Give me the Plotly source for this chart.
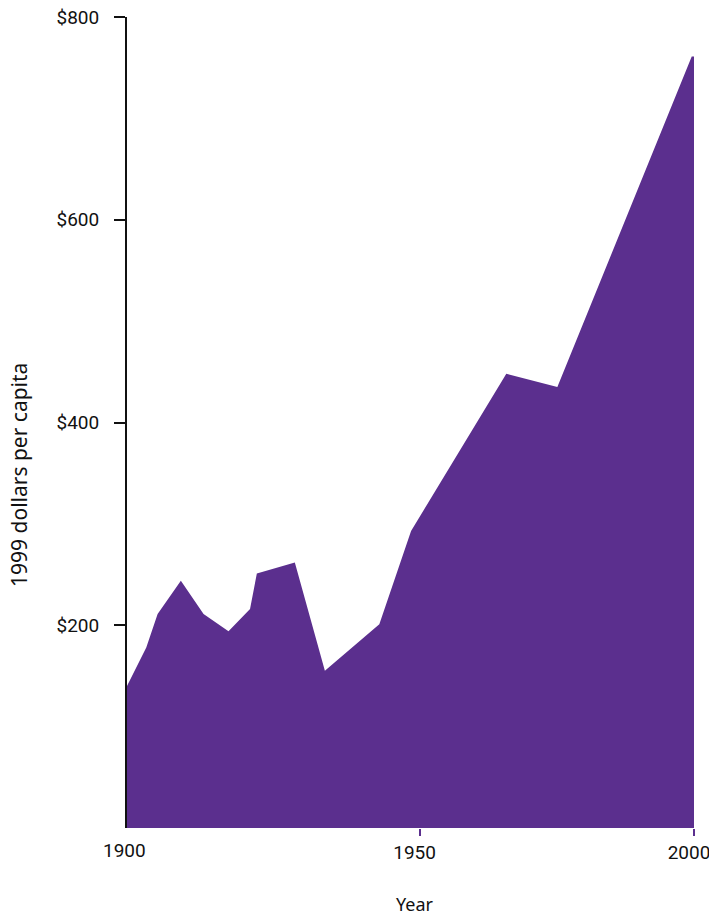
import plotly.graph_objects as go

# Spending per person, in constant 1999 dollars
years = [1900, 1903.4, 1905.4, 1909.5, 1913.5, 1917.9, 1921.7, 1922.9,
         1929.6, 1934.9, 1944.5, 1950.1, 1966.9, 1975.9, 1999.6, 2000]
dollars = [140, 178, 211, 244, 211, 194, 216, 251,
           262, 155, 201, 293, 448, 435, 761, 761]

y_ticks = [200, 400, 600, 800]
y_tick_text = ["$200", "$400", "$600", "$800"]
x_ticks = [1951.6, 2000]
x_tick_text = ["1950", "2000"]

PURPLE = "#5b2f8e"
INK = "#111111"
TICK_FONT = dict(family="Roboto, sans-serif", size=19, color=INK)

W, H = 709, 915
L, R, T, B = 127, 15, 17, 87
pw, ph = W - L - R, H - T - B

fig = go.Figure()
fig.add_trace(go.Scatter(
    x=years, y=dollars, mode="lines", fill="tozeroy",
    fillcolor=PURPLE, line=dict(width=0, color=PURPLE),
    hoverinfo="x+y", showlegend=False,
))

fig.update_layout(
    width=W, height=H,
    margin=dict(l=L, r=R, t=T, b=B),
    paper_bgcolor="white", plot_bgcolor="white",
    xaxis=dict(
        range=[1900, 2000], showgrid=False, zeroline=False, showline=False,
        automargin=False,
        tickvals=x_ticks, ticktext=x_tick_text,
        ticks="outside", ticklen=7, tickwidth=2, tickcolor=PURPLE,
        tickfont=TICK_FONT, ticklabeloverflow="allow",
        ticklabelshift=-5, ticklabelstandoff=0,
    ),
    yaxis=dict(
        range=[0, 800], showgrid=False, zeroline=False, automargin=False,
        showline=True, linecolor=INK, linewidth=2, layer="below traces",
        tickvals=y_ticks, ticktext=y_tick_text,
        ticks="outside", ticklen=11, tickwidth=2, tickcolor=INK,
        tickfont=TICK_FONT, ticklabeloverflow="allow",
        ticklabelstandoff=11,
    ),
    annotations=[
        # first year label sits at the corner of the axes
        dict(text="1900", x=1900, xref="x", y=0, yref="paper",
             yanchor="top", xanchor="center", xshift=-3, yshift=-9,
             showarrow=False, font=TICK_FONT),
        dict(text="Year", xref="paper", yref="paper",
             x=(415 - L) / pw, y=(H - B - 904) / ph,
             xanchor="center", yanchor="middle", showarrow=False,
             font=dict(family="Noto Sans, sans-serif", size=18, color=INK)),
        dict(text="1999 dollars per capita", textangle=-90,
             xref="paper", yref="paper",
             x=(19 - L) / pw, y=(H - B - 475) / ph,
             xanchor="center", yanchor="middle", showarrow=False,
             font=dict(family="Noto Sans, sans-serif", size=21, color=INK)),
    ],
)

fig.write_html("out.html")
